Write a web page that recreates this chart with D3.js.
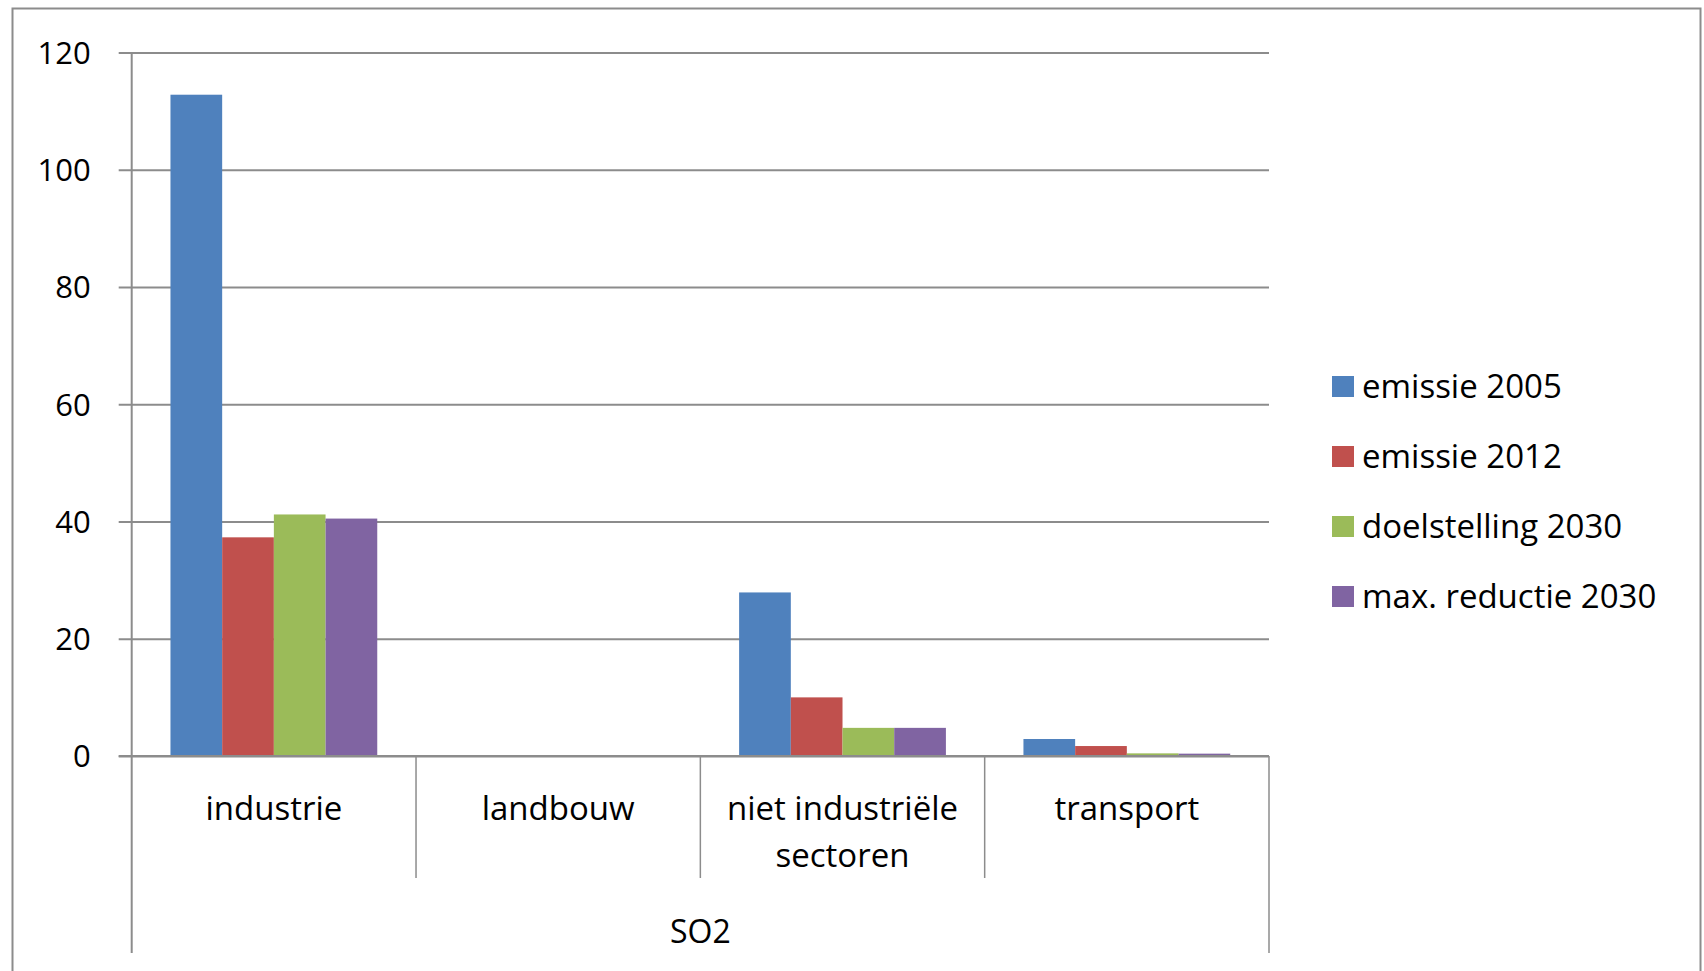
<!DOCTYPE html>
<html><head><meta charset="utf-8">
<script src="https://cdn.jsdelivr.net/npm/d3@7"></script>
<style>
html,body{margin:0;padding:0;background:#fff;}
svg text{font-family:"Open Sans","Noto Sans",sans-serif;fill:#000;}
</style></head>
<body><svg id="c" width="1704" height="971"></svg>
<script>
const categories = ["industrie","landbouw","niet industriële sectoren","transport"];
const seriesNames = ["emissie 2005","emissie 2012","doelstelling 2030","max. reductie 2030"];
const seriesColors = ["#4F81BD","#C0504D","#9BBB59","#8064A2"];
const emissie2005 = [112.8, 0, 27.9, 2.9];
const emissie2012 = [37.3, 0, 10.0, 1.7];
const doelstelling2030 = [41.2, 0, 4.8, 0.45];
const maxReductie2030 = [40.5, 0, 4.8, 0.4];
const yTicks = [0,20,40,60,80,100,120];
const groupLabel = "SO2";

const seriesValues = [emissie2005, emissie2012, doelstelling2030, maxReductie2030];
const svg = d3.select("#c");
const gridColor = "#8c8c8c";

svg.append("rect").attr("x",12.5).attr("y",8.5).attr("width",1688).attr("height",980)
  .attr("fill","none").attr("stroke","#8c8c8c").attr("stroke-width",2);

const pL = 131.7, pR = 1269, pT = 52.5, pB = 756;
const x = d3.scaleBand().domain(categories).range([pL,pR]).paddingInner(0).paddingOuter(0);
const y = d3.scaleLinear().domain([0,120]).range([pB,pT]);
const xs = d3.scaleBand().domain(d3.range(4)).range([0, x.bandwidth()]).paddingInner(0).paddingOuter(0.75);

const yAxis = d3.axisLeft(y).tickValues(yTicks).tickSize(-(pR-pL)).tickSizeOuter(0).tickPadding(41);
const gy = svg.append("g").attr("transform",`translate(${pL},0)`).call(yAxis);
gy.select(".domain").remove();
gy.selectAll(".tick line").attr("stroke",gridColor).attr("stroke-width",2).attr("x1",-13);
gy.selectAll(".tick text").attr("font-size",31).attr("font-family","Open Sans").attr("fill","#000").attr("dy","0.35em");

categories.forEach((c,i)=>{
  seriesValues.forEach((vals,s)=>{
    const v = vals[i];
    if (v<=0) return;
    svg.append("rect").attr("x",x(c)+xs(s)).attr("width",xs.bandwidth())
      .attr("y",y(v)).attr("height",y(0)-y(v)).attr("fill",seriesColors[s]);
  });
});

svg.append("line").attr("x1",pL).attr("x2",pL).attr("y1",pT).attr("y2",953).attr("stroke",gridColor).attr("stroke-width",2);
svg.append("line").attr("x1",pL-13).attr("x2",pR).attr("y1",pB).attr("y2",pB).attr("stroke",gridColor).attr("stroke-width",2);
svg.append("line").attr("x1",pR).attr("x2",pR).attr("y1",pB).attr("y2",953).attr("stroke",gridColor).attr("stroke-width",1.5);
categories.slice(1).forEach(c=>{
  svg.append("line").attr("x1",x(c)).attr("x2",x(c)).attr("y1",pB).attr("y2",878).attr("stroke",gridColor).attr("stroke-width",1.5);
});

const catLines = {"niet industriële sectoren":["niet industriële","sectoren"]};
categories.forEach(c=>{
  const lines = catLines[c] || [c];
  lines.forEach((l,j)=>{
    svg.append("text").attr("x",x(c)+x.bandwidth()/2).attr("y",808+j*47).attr("dy","0.35em")
      .attr("text-anchor","middle").attr("font-size",33).text(l);
  });
});
svg.append("text").attr("x",(pL+pR)/2).attr("y",932).attr("dy","0.35em").attr("text-anchor","middle").attr("font-size",32).text(groupLabel);

const lg = svg.append("g");
seriesNames.forEach((n,i)=>{
  const cy = 386.5 + i*70;
  lg.append("rect").attr("x",1332).attr("y",cy-10.5).attr("width",22).attr("height",21).attr("fill",seriesColors[i]);
  lg.append("text").attr("x",1362).attr("y",cy).attr("dy","0.35em").attr("font-size",33).text(n);
});
</script></body></html>
